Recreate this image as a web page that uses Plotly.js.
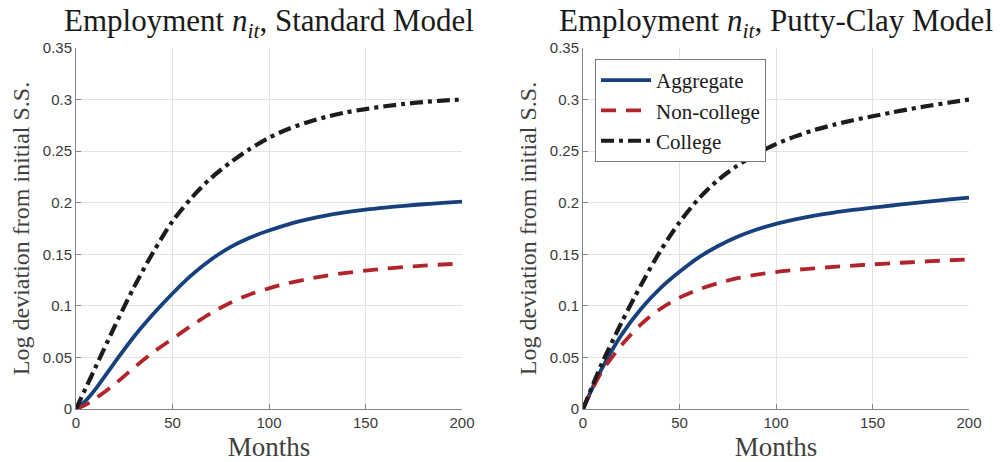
<!DOCTYPE html>
<html>
<head>
<meta charset="utf-8">
<script src="https://cdn.plot.ly/plotly-3.0.1.min.js"></script>
<style>html,body{margin:0;padding:0;background:#fff;}#chart{width:1001px;height:462px;}</style>
</head>
<body>
<div id="chart"></div>
<script>
// Months (shared x values)
var months = [0, 5, 10, 20, 30, 40, 50, 60, 70, 80, 90, 100, 110, 120, 130, 140, 150, 160, 170, 180, 190, 200];

// Standard Model
var stdAggregate  = [0, 0.008, 0.019, 0.045, 0.070, 0.092, 0.112, 0.130, 0.145, 0.157, 0.166, 0.173, 0.179, 0.1838, 0.1878, 0.1908, 0.1933, 0.1953, 0.1970, 0.1985, 0.1998, 0.201];
var stdNonCollege = [0, 0.004, 0.010, 0.024, 0.040, 0.055, 0.068, 0.081, 0.093, 0.103, 0.111, 0.117, 0.122, 0.126, 0.1294, 0.1320, 0.1342, 0.1360, 0.1376, 0.1390, 0.1401, 0.141];
var stdCollege    = [0, 0.020, 0.040, 0.080, 0.118, 0.152, 0.182, 0.205, 0.224, 0.239, 0.252, 0.263, 0.2715, 0.2780, 0.2834, 0.2876, 0.2908, 0.2935, 0.2958, 0.2976, 0.2990, 0.300];

// Putty-Clay Model
var pcAggregate   = [0, 0.021, 0.040, 0.072, 0.097, 0.117, 0.133, 0.147, 0.158, 0.167, 0.174, 0.1795, 0.1838, 0.1875, 0.1905, 0.1930, 0.1952, 0.1973, 0.1993, 0.2013, 0.2032, 0.205];
var pcNonCollege  = [0, 0.020, 0.037, 0.062, 0.082, 0.097, 0.108, 0.116, 0.122, 0.1268, 0.1302, 0.1328, 0.1348, 0.1364, 0.1378, 0.1390, 0.1402, 0.1413, 0.1423, 0.1433, 0.1442, 0.145];
var pcCollege     = [0, 0.023, 0.045, 0.084, 0.120, 0.153, 0.181, 0.204, 0.222, 0.236, 0.2475, 0.2568, 0.2643, 0.2705, 0.2756, 0.2800, 0.2838, 0.2875, 0.2910, 0.2942, 0.2972, 0.300];

var seriesNames = ['Aggregate', 'Non-college', 'College'];
var xTicks = [0, 50, 100, 150, 200];
var yTicks = [0, 0.05, 0.1, 0.15, 0.2, 0.25, 0.3, 0.35];
var yTickText = ['0', '0.05', '0.1', '0.15', '0.2', '0.25', '0.3', '0.35'];
var panelTitles = ['Employment <i>n</i><sub><i>it</i></sub>, Standard Model',
                   'Employment <i>n</i><sub><i>it</i></sub>, Putty-Clay Model'];
var xTitle = 'Months';
var yTitle = 'Log deviation from initial S.S.';

var styles = [
  {color: '#17417c', width: 3.8, dash: 'solid'},
  {color: '#b3242a', width: 3.8, dash: '15px,10px'},
  {color: '#1c1c1c', width: 4.2, dash: '13px,5px,4px,5px'}
];

function mk(x, y, i, ax, show) {
  return {
    x: x, y: y, type: 'scatter', mode: 'lines', name: seriesNames[i],
    xaxis: ax.x, yaxis: ax.y, showlegend: show, legendrank: i + 1,
    line: {color: styles[i].color, width: styles[i].width, dash: styles[i].dash, shape: 'spline', smoothing: 0.8}
  };
}
var a1 = {x: 'x', y: 'y'}, a2 = {x: 'x2', y: 'y2'};
var data = [
  mk(months, stdAggregate, 0, a1, false),
  mk(months, stdNonCollege, 1, a1, false),
  mk(months, stdCollege, 2, a1, false),
  mk(months, pcAggregate, 0, a2, true),
  mk(months, pcNonCollege, 1, a2, true),
  mk(months, pcCollege, 2, a2, true)
];

var tickFont = {family: 'Liberation Sans, Arial, sans-serif', size: 15, color: '#3a3a3a'};
var serif = 'Liberation Serif, Times New Roman, serif';

function xa(dom, anchor) {
  return {
    domain: dom, anchor: anchor, range: [0, 200], tickvals: xTicks, ticktext: xTicks.map(String),
    showline: true, linecolor: '#858585', linewidth: 1, mirror: false,
    ticks: 'inside', ticklen: 5, tickcolor: '#858585', showgrid: true, gridcolor: '#e3e3e3', gridwidth: 1,
    zeroline: false, tickfont: tickFont, automargin: false,
    title: {text: xTitle, font: {family: serif, size: 27, color: '#404040'}, standoff: 9}
  };
}
function ya(dom, anchor) {
  return {
    domain: dom, anchor: anchor, range: [0, 0.35], tickvals: yTicks, ticktext: yTickText,
    showline: true, linecolor: '#858585', linewidth: 1, mirror: false,
    ticks: 'inside', ticklen: 5, tickcolor: '#858585', showgrid: true, gridcolor: '#e3e3e3', gridwidth: 1,
    zeroline: false, tickfont: tickFont, automargin: false,
    title: {text: yTitle, font: {family: serif, size: 24, color: '#404040'}, standoff: 6}
  };
}

var yDom = [1 - 409 / 462, 1 - 48 / 462];
var layout = {
  width: 1001, height: 462,
  margin: {l: 0, r: 0, t: 0, b: 0},
  paper_bgcolor: '#ffffff', plot_bgcolor: '#ffffff',
  xaxis: xa([76 / 1001, 462 / 1001], 'y'),
  yaxis: ya(yDom, 'x'),
  xaxis2: xa([583 / 1001, 969 / 1001], 'y2'),
  yaxis2: ya(yDom, 'x2'),
  showlegend: true,
  legend: {
    x: 595 / 1001, y: 1 - 59 / 462, xanchor: 'left', yanchor: 'top',
    bgcolor: '#ffffff', bordercolor: '#7a7a7a', borderwidth: 1,
    font: {family: serif, size: 21, color: '#1a1a1a'},
    itemwidth: 50, tracegroupgap: 0, traceorder: 'normal'
  },
  annotations: [
    {text: panelTitles[0], xref: 'paper', yref: 'paper', x: 269 / 1001, y: 1 - 23 / 462, xanchor: 'center', yanchor: 'middle',
     showarrow: false, font: {family: serif, size: 31, color: '#1a1a1a'}},
    {text: panelTitles[1], xref: 'paper', yref: 'paper', x: 776 / 1001, y: 1 - 23 / 462, xanchor: 'center', yanchor: 'middle',
     showarrow: false, font: {family: serif, size: 31, color: '#1a1a1a'}}
  ]
};

Plotly.newPlot('chart', data, layout, {displayModeBar: false, staticPlot: true});
</script>
</body>
</html>
